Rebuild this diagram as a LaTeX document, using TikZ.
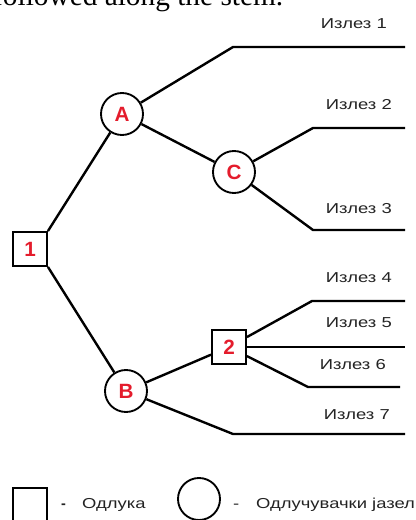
\documentclass[tikz,border=0pt]{standalone}
\usepackage{fontspec}
\newfontfamily\lblfont[FakeStretch=1.28]{Liberation Sans}
\newfontfamily\keyfont{Liberation Sans}
\newfontfamily\cutfont{Liberation Serif}
\definecolor{nodered}{RGB}{228,28,44}
\definecolor{lblgray}{RGB}{35,35,35}

\begin{document}
\begin{tikzpicture}[
        x=0.75pt, y=-0.75pt,
        line width=1.8pt,
        decision/.style={
            draw,
            rectangle,
            minimum size=25.5pt,
            inner sep=0pt,
            line width=1.4pt,
            text=nodered,
            font=\keyfont\bfseries\fontsize{15.5}{16}\selectfont
        },
        chance/.style={
            draw,
            circle,
            minimum size=31.5pt,
            inner sep=0pt,
            line width=1.4pt,
            text=nodered,
            font=\keyfont\bfseries\fontsize{15.5}{16}\selectfont
        },
        outcome/.style={
            anchor=east,
            inner sep=0pt,
            text=lblgray,
            font=\lblfont\fontsize{10.8}{12}\selectfont
        },
        keytext/.style={
            anchor=base west,
            inner sep=0pt,
            text=lblgray,
            font=\lblfont\fontsize{10.8}{12}\selectfont
        }
    ]
    \useasboundingbox (0,0) rectangle (415,520);

    % 上方被裁掉的正文
    \node[anchor=base west, inner sep=0pt, font=\cutfont\fontsize{22}{24}\selectfont] (cut) at (-8,6) {followed along the stem.};

    % 决策节点与机会节点
    \node[decision] (d1) at (30,249) {1};
    \node[chance] (A) at (122,114) {A};
    \node[chance] (C) at (234,172) {C};
    \node[chance] (B) at (126,391) {B};
    \node[decision] (d2) at (229,347) {2};

    % 分支的拐点与末端
    \coordinate (k1) at (233,47);  \coordinate (e1) at (405,47);
    \coordinate (k2) at (313,128); \coordinate (e2) at (405,128);
    \coordinate (k3) at (313,230); \coordinate (e3) at (405,230);
    \coordinate (k4) at (312,301); \coordinate (e4) at (405,301);
    \coordinate (e5) at (405,347);
    \coordinate (k6) at (308,387); \coordinate (e6) at (400,387);
    \coordinate (k7) at (233,434); \coordinate (e7) at (405,434);

    % 连线
    \draw (d1.north east) -- (A);
    \draw (d1.south east) -- (B);
    \draw (A) -- (k1) -- (e1);
    \draw (A) -- (C);
    \draw (C) -- (k2) -- (e2);
    \draw (C) -- (k3) -- (e3);
    \draw (B) -- (d2);
    \draw (B) -- (k7) -- (e7);
    \draw (d2) -- (k4) -- (e4);
    \draw (d2) -- (e5);
    \draw (d2) -- (k6) -- (e6);

    % 结果标签
    \node[outcome] (o1) at (388,24) {Излез 1};
    \node[outcome] (o2) at (393,105) {Излез 2};
    \node[outcome] (o3) at (393,209) {Излез 3};
    \node[outcome] (o4) at (393,278) {Излез 4};
    \node[outcome] (o5) at (393,323) {Излез 5};
    \node[outcome] (o6) at (387,365) {Излез 6};
    \node[outcome] (o7) at (391,415) {Излез 7};

    % 图例
    \node[decision] (keysq) at (30,505) {};
    \node[keytext, font=\keyfont\bfseries\fontsize{10.8}{12}\selectfont] (keydash1) at (60,508) {-};
    \node[keytext] (keyname1) at (81,508) {Одлука};
    \node[chance] (keyci) at (199,499) {};
    \node[keytext] (keydash2) at (232,508) {-};
    \node[keytext] (keyname2) at (255,508) {Одлучувачки јазел};
\end{tikzpicture}
\end{document}
